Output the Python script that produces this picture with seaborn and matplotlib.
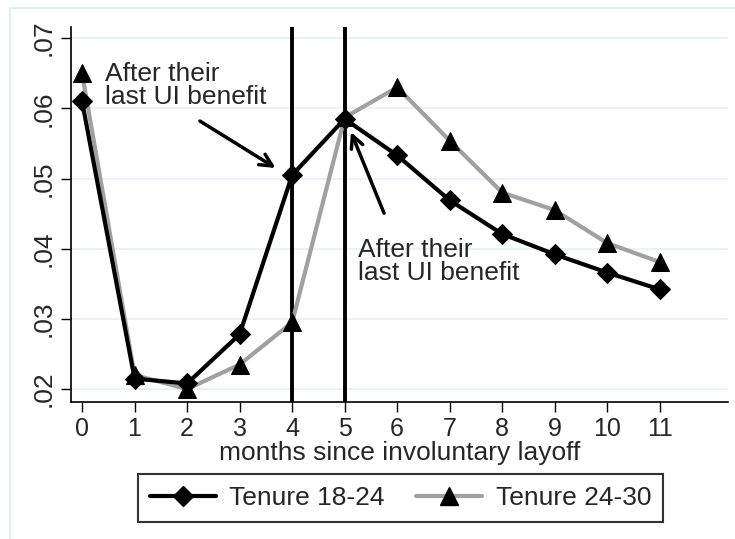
import numpy as np
import pandas as pd
import seaborn as sns
import matplotlib.pyplot as plt
from matplotlib.lines import Line2D
from matplotlib.patches import Rectangle

# data
months = [0, 1, 2, 3, 4, 5, 6, 7, 8, 9, 10, 11]
tenure_18_24 = [0.0610, 0.0215, 0.0208, 0.0278, 0.0505, 0.0585,
                0.0533, 0.0469, 0.0421, 0.0392, 0.0366, 0.0342]
tenure_24_30 = [0.0650, 0.0220, 0.0200, 0.0235, 0.0295, 0.0587,
                0.0630, 0.0554, 0.0480, 0.0455, 0.0408, 0.0381]
ui_end_months = [4, 5]
yticks = [0.02, 0.03, 0.04, 0.05, 0.06, 0.07]
ytick_labels = ['.02', '.03', '.04', '.05', '.06', '.07']

df = pd.DataFrame({'month': months, 'a': tenure_18_24, 'b': tenure_24_30})

sns.set_style('white')
plt.rcParams['font.family'] = ['Liberation Sans', 'DejaVu Sans']

fig = plt.figure(figsize=(7.35, 5.39), dpi=100)
ax = fig.add_axes([0.0966, 0.254, 0.894, 0.696])

# light outer frame like Stata graph region (cut off at right/bottom)
fig.patches.append(Rectangle((0.0136, -0.1), 1.2, 1.085, transform=fig.transFigure,
                             fill=False, edgecolor='#e3ecef', lw=1.5))

for yv in yticks:
    ax.axhline(yv, color='#e8f0f3', lw=1.2, zorder=0)

for m in ui_end_months:
    ax.axvline(m, color='black', lw=2.8, zorder=1)

sns.lineplot(data=df, x='month', y='b', ax=ax, color='#a0a0a0', lw=3,
             marker='^', markersize=13, markerfacecolor='black',
             markeredgecolor='black', zorder=2)
sns.lineplot(data=df, x='month', y='a', ax=ax, color='black', lw=3,
             marker='D', markersize=10, markerfacecolor='black',
             markeredgecolor='black', zorder=3)

ax.set_xlim(-0.21, 12.3)
ax.set_ylim(0.01815, 0.0716)
ax.set_xticks(months)
ax.set_yticks(yticks)
ax.set_yticklabels(ytick_labels, rotation=90, va='center')
ax.tick_params(axis='both', direction='out', length=7, width=1, labelsize=18,
               left=True, bottom=True, color='black')
ax.tick_params(axis='x', pad=4)
ax.tick_params(axis='y', pad=4, labelsize=19)
for s in ['top', 'right']:
    ax.spines[s].set_visible(False)
for s in ['left', 'bottom']:
    ax.spines[s].set_color('black')
    ax.spines[s].set_linewidth(1.2)

ax.set_xlabel('months since involuntary layoff', fontsize=19, labelpad=0)
ax.set_ylabel('')

# annotations
ax.text(0.44, 0.0666, 'After their\nlast UI benefit', fontsize=19, va='top',
        ha='left', linespacing=0.95)
ax.annotate('', xy=(3.73, 0.0513), xytext=(2.2, 0.0584),
            arrowprops=dict(arrowstyle='->', color='black', lw=2.5,
                            mutation_scale=22))
ax.text(5.25, 0.0416, 'After their\nlast UI benefit', fontsize=19, va='top',
        ha='left', linespacing=0.95)
ax.annotate('', xy=(5.1, 0.0570), xytext=(5.77, 0.0447),
            arrowprops=dict(arrowstyle='->', color='black', lw=2.5,
                            mutation_scale=22))

handles = [
    Line2D([], [], color='black', lw=3, marker='D', markersize=10,
           markerfacecolor='black', markeredgecolor='black'),
    Line2D([], [], color='#a0a0a0', lw=3, marker='^', markersize=13,
           markerfacecolor='black', markeredgecolor='black'),
]
leg = fig.legend(handles, ['Tenure 18-24', 'Tenure 24-30'], ncol=2,
                 loc='center', bbox_to_anchor=(0.545, 0.076), fontsize=19,
                 frameon=True, fancybox=False, edgecolor='black',
                 handlelength=2.5, handletextpad=0.5, columnspacing=1.2,
                 borderpad=0.45)
leg.get_frame().set_linewidth(1.5)

fig.savefig('out.png', dpi=100, facecolor='white')
